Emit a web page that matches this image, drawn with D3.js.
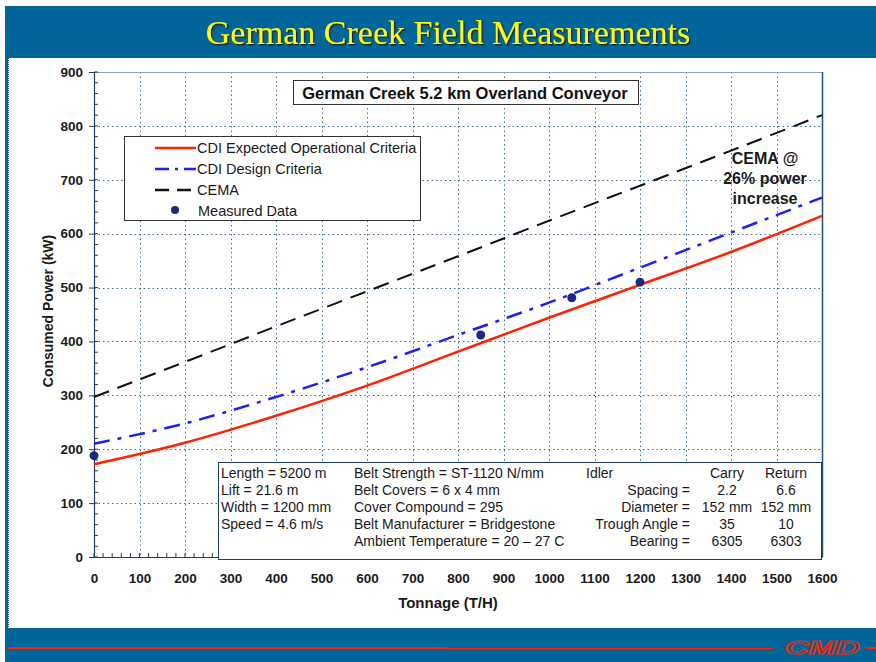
<!DOCTYPE html>
<html>
<head>
<meta charset="utf-8">
<script src="https://cdn.jsdelivr.net/npm/d3@7"></script>
<style>
  body { margin: 0; background: #fff; }
  svg { display: block; font-family: "Liberation Sans", Arial, sans-serif; }
</style>
</head>
<body>
<svg width="876" height="662"></svg>
<script>
// Chart data
var tonnage      = [0, 200, 400, 600, 800, 1000, 1200, 1400, 1600];
var cdiExpected  = [172, 212, 262, 318, 381, 444, 505, 566, 633];
var cdiDesign    = [210, 248, 297, 352, 412, 472, 537, 602, 667];
var cemaPower    = [297, 362, 428, 493, 558, 624, 689, 754, 820];
var measuredT    = [0, 850, 1050, 1200];
var measuredKW   = [188, 412, 481, 510];

var xTicks = d3.range(0, 1601, 100);
var yTicks = d3.range(0, 901, 100);

var legendLabels = ["CDI Expected Operational Criteria", "CDI Design Criteria", "CEMA", "Measured Data"];

var tableCol1 = ["Length = 5200 m", "Lift = 21.6 m", "Width = 1200 mm", "Speed = 4.6 m/s"];
var tableCol2 = ["Belt Strength = ST-1120 N/mm", "Belt Covers = 6 x 4 mm", "Cover Compound = 295",
                 "Belt Manufacturer = Bridgestone", "Ambient Temperature = 20 \u2013 27 C"];
var idlerRows  = ["Spacing =", "Diameter =", "Trough Angle =", "Bearing ="];
var idlerCarry = ["Carry", "2.2", "152 mm", "35", "6305"];
var idlerRet   = ["Return", "6.6", "152 mm", "10", "6303"];

var svg = d3.select("svg");

// drop shadow for the title
var flt = svg.append("defs").append("filter").attr("id", "shadow")
    .attr("x", "-5%").attr("y", "-20%").attr("width", "110%").attr("height", "140%");
flt.append("feDropShadow").attr("dx", 1.5).attr("dy", 1.5).attr("stdDeviation", 0.3)
    .attr("flood-color", "#222").attr("flood-opacity", 1);

// ---- page frame
svg.append("rect").attr("x", 5).attr("y", 6).attr("width", 871).attr("height", 656).attr("fill", "#006699");
svg.append("rect").attr("x", 8).attr("y", 58).attr("width", 868).attr("height", 570).attr("fill", "#fff");
svg.append("line").attr("x1", 8.5).attr("x2", 8.5).attr("y1", 58).attr("y2", 628)
    .attr("stroke", "#335577").attr("stroke-dasharray", "1,1");

svg.append("text").attr("x", 448).attr("y", 44).attr("text-anchor", "middle")
    .attr("font-family", "'Liberation Serif', 'Times New Roman', serif")
    .attr("font-size", 34).attr("fill", "#ffff00").attr("filter", "url(#shadow)")
    .text("German Creek Field Measurements");

// bottom band red line + logo
svg.append("line").attr("x1", 8).attr("x2", 447).attr("y1", 648).attr("y2", 648).attr("stroke", "#ff2200").attr("stroke-width", 2);
svg.append("line").attr("x1", 447).attr("x2", 773).attr("y1", 648.5).attr("y2", 648.5).attr("stroke", "#ff2200").attr("stroke-width", 1.5);
svg.append("text").attr("x", 822).attr("y", 656).attr("text-anchor", "middle")
    .attr("font-size", 22).attr("font-weight", "bold").attr("font-style", "italic")
    .attr("fill", "none").attr("stroke", "#ff2200").attr("stroke-width", 1.3)
    .attr("transform", "translate(822,648) scale(1.5,0.8) translate(-822,-648)")
    .text("CMD");
svg.append("line").attr("x1", 866).attr("x2", 876).attr("y1", 648).attr("y2", 648).attr("stroke", "#ff2200").attr("stroke-width", 2);

// ---- scales
var x = d3.scaleLinear().domain([0, 1600]).range([94, 822]);
var y = d3.scaleLinear().domain([0, 900]).range([557, 72]);

// grid
var grid = svg.append("g").attr("stroke", "#3f6f8f").attr("stroke-width", 1).attr("stroke-dasharray", "1.5,3");
grid.selectAll(".vx").data(xTicks.slice(1, -1)).enter().append("line")
    .attr("x1", function(d) { return Math.round(x(d)) + 0.5; })
    .attr("x2", function(d) { return Math.round(x(d)) + 0.5; })
    .attr("y1", y(900)).attr("y2", y(0));
grid.selectAll(".hy").data(yTicks.slice(1, -1)).enter().append("line")
    .attr("y1", function(d) { return Math.round(y(d)) + 0.5; })
    .attr("y2", function(d) { return Math.round(y(d)) + 0.5; })
    .attr("x1", x(0)).attr("x2", x(1600));

// frame top / right
svg.append("line").attr("x1", x(0)).attr("x2", x(1600)).attr("y1", 72.5).attr("y2", 72.5).attr("stroke", "#7fa8c4");
svg.append("line").attr("x1", 822.5).attr("x2", 822.5).attr("y1", 72).attr("y2", 557).attr("stroke", "#1f4f7f").attr("stroke-width", 1.5);

// axes
var xAxis = svg.append("g").attr("transform", "translate(0,557)")
    .call(d3.axisBottom(x).tickValues(xTicks).tickSize(0).tickPadding(16).tickFormat(d3.format("d")));
var yAxis = svg.append("g").attr("transform", "translate(94,0)")
    .call(d3.axisLeft(y).tickValues(yTicks).tickSize(5).tickPadding(6).tickFormat(d3.format("d")));
[xAxis, yAxis].forEach(function(a) {
  a.select(".domain").attr("stroke", "#1f3f5f").attr("stroke-width", 1.2);
  a.selectAll("text").attr("font-size", 13.5).attr("font-weight", "bold").attr("fill", "#1a1a1a")
      .attr("font-family", "'Liberation Sans', Arial, sans-serif");
  a.selectAll("line").attr("stroke", "#1f3f5f");
});
// minor ticks
svg.append("g").selectAll("line").data(d3.range(0, 901, 20)).enter().append("line")
    .attr("x1", 94).attr("x2", 98).attr("y1", function(d) { return y(d); }).attr("y2", function(d) { return y(d); })
    .attr("stroke", "#1f3f5f");
svg.append("g").selectAll("line").data(d3.range(0, 1601, 20)).enter().append("line")
    .attr("y1", 557).attr("y2", 553).attr("x1", function(d) { return x(d); }).attr("x2", function(d) { return x(d); })
    .attr("stroke", "#1f3f5f");

// axis titles
svg.append("text").attr("x", 448).attr("y", 608).attr("text-anchor", "middle")
    .attr("font-size", 15).attr("font-weight", "bold").attr("fill", "#1a1a1a").text("Tonnage (T/H)");
svg.append("text").attr("transform", "translate(53,311) rotate(-90)").attr("text-anchor", "middle")
    .attr("font-size", 14).attr("font-weight", "bold").attr("fill", "#1a1a1a").text("Consumed Power (kW)");

// ---- series
function lineOf(vals) {
  return d3.line().x(function(d, i) { return x(tonnage[i]); }).y(function(d) { return y(d); })
      .curve(d3.curveMonotoneX)(vals);
}
svg.append("path").attr("d", lineOf(cemaPower)).attr("fill", "none")
    .attr("stroke", "#111").attr("stroke-width", 2).attr("stroke-dasharray", "16,9");
svg.append("path").attr("d", lineOf(cdiDesign)).attr("fill", "none")
    .attr("stroke", "#1f1fef").attr("stroke-width", 2.5).attr("stroke-dasharray", "16,8,4,8");
svg.append("path").attr("d", lineOf(cdiExpected)).attr("fill", "none")
    .attr("stroke", "#ff2200").attr("stroke-width", 2.5);
svg.append("g").selectAll("circle").data(measuredKW).enter().append("circle")
    .attr("cx", function(d, i) { return x(measuredT[i]); })
    .attr("cy", function(d) { return y(d); })
    .attr("r", 4.5).attr("fill", "#1a2a80");

// ---- chart title box
svg.append("rect").attr("x", 293.5).attr("y", 80.5).attr("width", 345).attr("height", 24)
    .attr("fill", "#fff").attr("stroke", "#333").attr("stroke-width", 1);
svg.append("text").attr("x", 465).attr("y", 99).attr("text-anchor", "middle")
    .attr("font-size", 16.5).attr("font-weight", "bold").attr("fill", "#111")
    .text("German Creek 5.2 km Overland Conveyor");

// ---- legend
var leg = svg.append("g");
leg.append("rect").attr("x", 124.5).attr("y", 136.5).attr("width", 296).attr("height", 84)
    .attr("fill", "#fff").attr("stroke", "#333");
var legStyles = [
  { stroke: "#ff2200", dash: null },
  { stroke: "#1f1fef", dash: "14,6,3,6" },
  { stroke: "#111", dash: "14,8" }
];
legendLabels.forEach(function(lab, i) {
  var yy = 148 + i * 21;
  if (i < 3) {
    leg.append("line").attr("x1", 155).attr("x2", 196).attr("y1", yy).attr("y2", yy)
        .attr("stroke", legStyles[i].stroke).attr("stroke-width", 2.5)
        .attr("stroke-dasharray", legStyles[i].dash);
  } else {
    leg.append("circle").attr("cx", 175).attr("cy", yy - 1).attr("r", 4).attr("fill", "#1a2a80");
  }
  leg.append("text").attr("x", i < 3 ? 197 : 198).attr("y", yy + 5).attr("font-size", 14.5)
      .attr("fill", "#1a1a1a").text(lab);
});

// ---- CEMA annotation
var ann = svg.append("g").attr("font-size", 16).attr("font-weight", "bold").attr("fill", "#1a1a1a").attr("text-anchor", "middle");
["CEMA @", "26% power", "increase"].forEach(function(t, i) {
  ann.append("text").attr("x", 765).attr("y", 164 + i * 20).text(t);
});

// ---- parameter table
var tb = svg.append("g").attr("font-size", 14).attr("fill", "#1a1a1a");
tb.append("rect").attr("x", 218.5).attr("y", 462.5).attr("width", 603).attr("height", 97)
    .attr("fill", "#fff").attr("stroke", "#1f3f5f");
var rowY = [478, 495, 512, 529, 546];
tableCol1.forEach(function(t, i) { tb.append("text").attr("x", 221).attr("y", rowY[i]).text(t); });
tableCol2.forEach(function(t, i) { tb.append("text").attr("x", 354).attr("y", rowY[i]).text(t); });
tb.append("text").attr("x", 586).attr("y", rowY[0]).text("Idler");
idlerRows.forEach(function(t, i) {
  tb.append("text").attr("x", 690).attr("y", rowY[i + 1]).attr("text-anchor", "end").text(t);
});
idlerCarry.forEach(function(t, i) {
  tb.append("text").attr("x", 727).attr("y", rowY[i]).attr("text-anchor", "middle").text(t);
});
idlerRet.forEach(function(t, i) {
  tb.append("text").attr("x", 786).attr("y", rowY[i]).attr("text-anchor", "middle").text(t);
});
</script>
</body>
</html>
